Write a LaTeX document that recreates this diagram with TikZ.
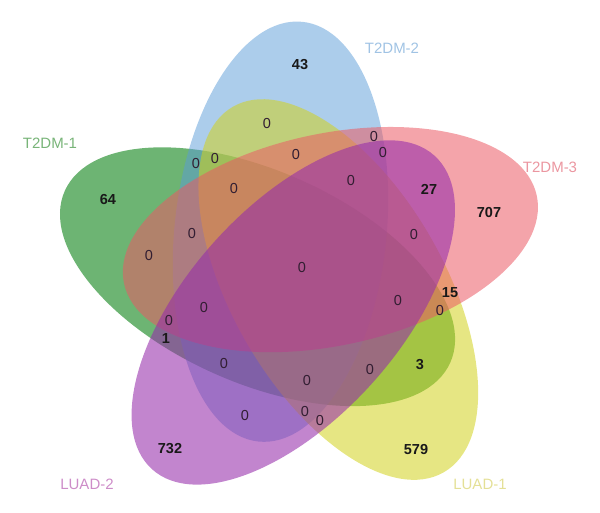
\documentclass[tikz,border=0pt]{standalone}
\usepackage{fontspec}
\setmainfont{Liberation Sans}
\definecolor{greenC}{RGB}{30,140,40}
\definecolor{blueC}{RGB}{90,155,215}
\definecolor{yellowC}{RGB}{210,210,30}
\definecolor{pinkC}{RGB}{235,90,100}
\definecolor{magentaC}{RGB}{150,45,170}
\definecolor{zeroC}{RGB}{50,30,50}
\definecolor{lgreen}{RGB}{120,180,120}
\definecolor{lblue}{RGB}{160,195,228}
\definecolor{lpink}{RGB}{235,150,160}
\definecolor{lmag}{RGB}{205,140,200}
\definecolor{lyel}{RGB}{228,224,150}
\tikzset{
  setshape/.style 2 args={shift={(300pt,242pt)}, shift={(#1:43pt)}, rotate=#2},
  zero/.style={font=\fontsize{14.5}{16}\selectfont, text=zeroC, inner sep=0pt},
  num/.style={font=\fontsize{14.5}{16}\selectfont\bfseries, text=black!90, inner sep=0pt},
  setlabel/.style={font=\fontsize{15}{17}\selectfont, inner sep=0pt}
}
\begin{document}
\begin{tikzpicture}[x=1pt,y=1pt]
\useasboundingbox (0,0) rectangle (600,512);
% ellipses
\fill[greenC, fill opacity=0.65, setshape={189}{156}] (0,0) ellipse [x radius=211pt, y radius=106pt];
\fill[blueC, fill opacity=0.5, setshape={117}{84}] (0,0) ellipse [x radius=211pt, y radius=106pt];
\fill[yellowC, fill opacity=0.55, setshape={333}{300}] (0,0) ellipse [x radius=211pt, y radius=106pt];
\fill[pinkC, fill opacity=0.55, setshape={45}{12}] (0,0) ellipse [x radius=211pt, y radius=106pt];
\fill[magentaC, fill opacity=0.58, setshape={261}{228}] (0,0) ellipse [x radius=211pt, y radius=106pt];
% set labels
\node[setlabel, text=lgreen] (l1) at (50,369) {T2DM-1};
\node[setlabel, text=lblue] (l2) at (392,464) {T2DM-2};
\node[setlabel, text=lpink] (l3) at (550,345) {T2DM-3};
\node[setlabel, text=lmag] (l4) at (87,28) {LUAD-2};
\node[setlabel, text=lyel] (l5) at (480,28) {LUAD-1};
% counts
\node[num] (n1) at (300,447) {43};
\node[zero] (n2) at (267,388) {0};
\node[zero] (n3) at (196,348) {0};
\node[zero] (n4) at (215,353) {0};
\node[zero] (n5) at (296,357) {0};
\node[zero] (n6) at (234,323) {0};
\node[num] (n7) at (108,312) {64};
\node[zero] (n8) at (192,278) {0};
\node[zero] (n9) at (149,256) {0};
\node[zero] (n10) at (374,375) {0};
\node[zero] (n11) at (383,359) {0};
\node[zero] (n12) at (351,331) {0};
\node[num] (n13) at (429,323) {27};
\node[num] (n14) at (489,299) {707};
\node[zero] (n15) at (414,277) {0};
\node[zero] (n16) at (302,244) {0};
\node[zero] (n17) at (398,211) {0};
\node[num] (n18) at (450,219) {15};
\node[zero] (n19) at (440,201) {0};
\node[num] (n20) at (420,147) {3};
\node[zero] (n21) at (370,142) {0};
\node[zero] (n22) at (307,131) {0};
\node[zero] (n23) at (305,100) {0};
\node[zero] (n24) at (320,91) {0};
\node[num] (n25) at (416,62) {579};
\node[zero] (n26) at (204,204) {0};
\node[zero] (n27) at (169,191) {0};
\node[num] (n28) at (166,173) {1};
\node[zero] (n29) at (224,148) {0};
\node[zero] (n30) at (245,96) {0};
\node[num] (n31) at (170,63) {732};
\end{tikzpicture}
\end{document}
